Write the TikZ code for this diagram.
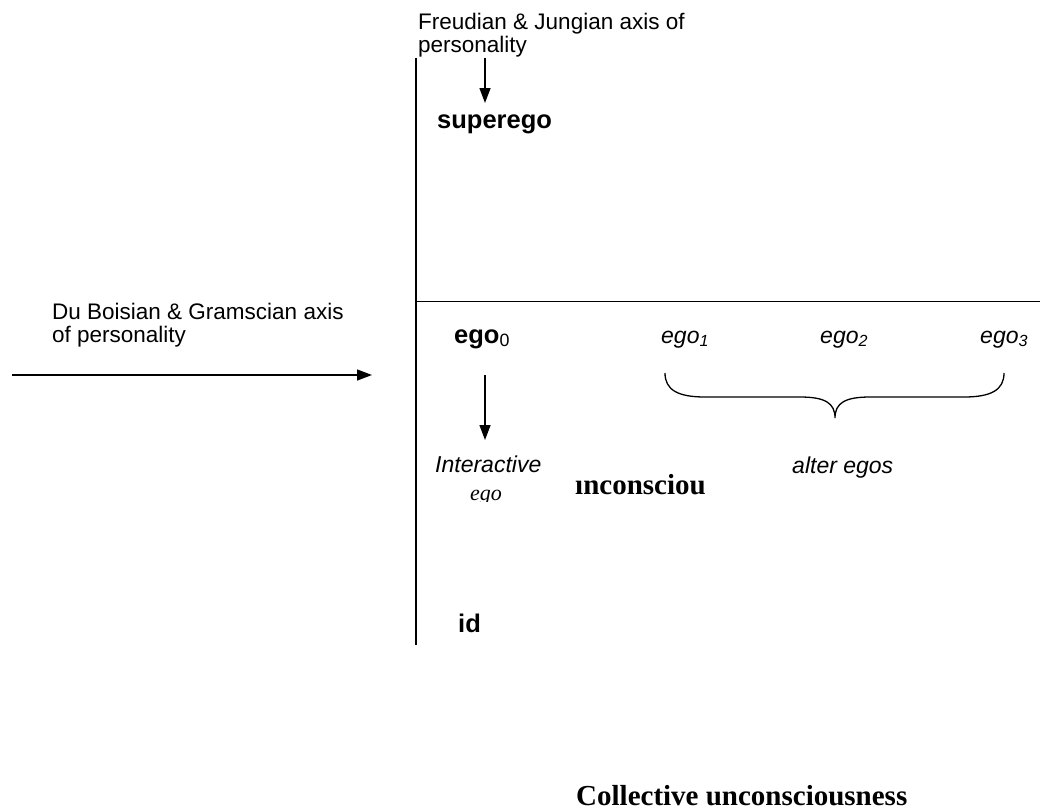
\documentclass[tikz,border=0pt]{standalone}
\usepackage{fontspec}
\setmainfont{Liberation Sans}
\newfontfamily\tnr{Liberation Serif}
\usetikzlibrary{arrows.meta}
\begin{document}
\begin{tikzpicture}[x=1pt,y=-1pt,
  lbl/.style={inner sep=0pt,font=\fontsize{22.5}{23}\selectfont},
  bld/.style={inner sep=0pt,anchor=base west,font=\fontsize{25.5}{28}\selectfont\bfseries},
  itl/.style={inner sep=0pt,anchor=base west,font=\fontsize{23}{26}\selectfont\itshape},
  srfb/.style={inner sep=0pt,anchor=base west,font=\fontsize{29}{32}\selectfont\tnr\bfseries},
  axis/.style={line width=1.5pt},
  arr/.style={line width=1.4pt,-{Triangle[length=15pt,width=11pt]}}]
\useasboundingbox (0,0) rectangle (1040,811);
% labels of the axes
\node[lbl,anchor=north west,align=left] (fj) at (418,12.6) {Freudian \& Jungian axis of\\personality};
\node[lbl,anchor=north west,align=left] (db) at (52,302.6) {Du Boisian \& Gramscian axis\\of personality};
% axes
\coordinate (vtop) at (416,58);
\coordinate (vbot) at (416,645);
\coordinate (hl) at (416,301.5);
\coordinate (hr) at (1040,301.5);
\draw[axis] (vtop) -- (vbot);
\draw[axis] (hl) -- (hr);
% arrows
\coordinate (a1s) at (485,58);
\coordinate (a1e) at (485,103);
\draw[arr] (a1s) -- (a1e);
\coordinate (a2s) at (12,375);
\coordinate (a2e) at (372,375);
\draw[arr] (a2s) -- (a2e);
\coordinate (a3s) at (485,375);
\coordinate (a3e) at (485,440);
\draw[arr] (a3s) -- (a3e);
% texts
\node[bld] (sup) at (437,128) {superego};
\node[bld] (ego0) at (454,343) {ego\textsubscript{\mdseries 0}};
\node[itl] (ego1) at (661,343) {ego\textsubscript{1}};
\node[itl] (ego2) at (820,343) {ego\textsubscript{2}};
\node[itl] (ego3) at (980,343) {ego\textsubscript{3}};
\node[itl] (inter) at (435,472) {Interactive};
\begin{scope}
\clip (430,470) rectangle (540,501);
\node[inner sep=0pt,anchor=base west,font=\fontsize{22}{24}\selectfont\tnr\itshape] (iego) at (470,500) {ego};
\end{scope}
\node[srfb] (unc) at (575,494) {ınconsciou};
\node[itl] (alter) at (792,473) {alter egos};
\node[bld] (id) at (458,632) {id};
\node[srfb] (coll) at (576,805) {Collective unconsciousness};
% brace
\coordinate (bl) at (665,373);
\coordinate (br) at (1004,373);
\coordinate (bt) at (835,418);
\draw[line width=1.3pt] (bl) .. controls (665,390) and (678,397) .. (705,397)
  -- (800,397) .. controls (825,397) and (835,403) .. (bt)
  .. controls (835,403) and (845,397) .. (870,397)
  -- (964,397) .. controls (991,397) and (1004,390) .. (br);
\end{tikzpicture}
\end{document}
